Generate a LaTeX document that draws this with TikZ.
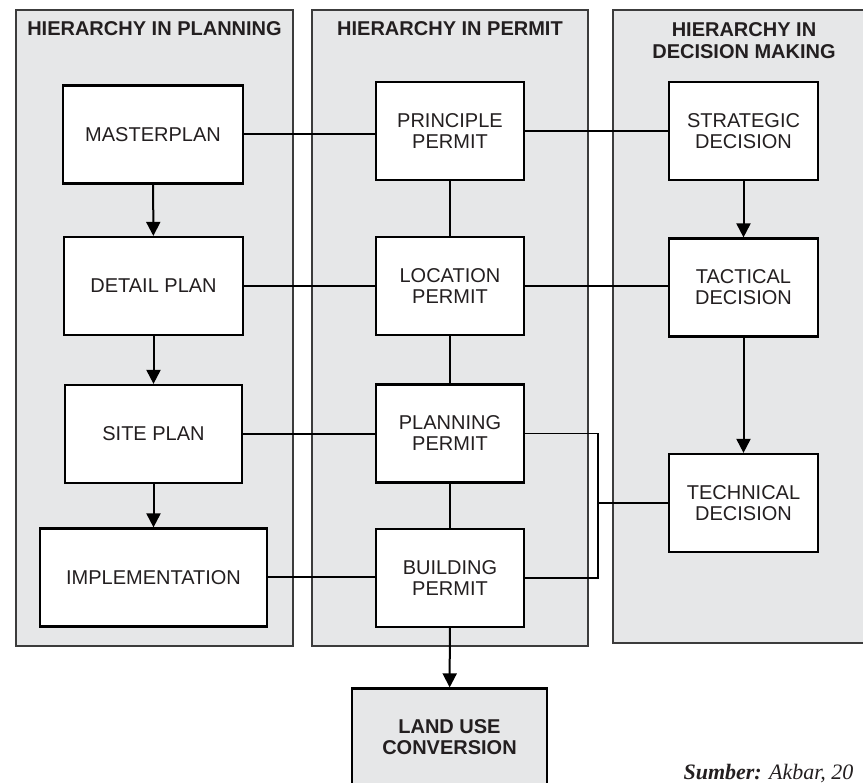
\documentclass[tikz,border=0pt]{standalone}
\usepackage{fontspec}
\setmainfont{Liberation Sans}
\newfontfamily\srcfont{Liberation Serif}
\usetikzlibrary{arrows.meta}
\definecolor{panelgray}{HTML}{E6E7E8}
\definecolor{inkgray}{HTML}{231F20}
\definecolor{framegray}{HTML}{3C3C3C}

\begin{document}
\begin{tikzpicture}[x=1pt,y=-1pt,
  panel/.style={fill=panelgray,draw=framegray,line width=1.5pt},
  blk/.style={draw=black,fill=white,line width=2.2pt,minimum width=#1,minimum height=98pt,
    inner sep=0pt,align=center,font=\fontsize{20}{21}\selectfont,text=inkgray},
  blk/.default=148pt,
  head/.style={font=\fontsize{20}{22}\selectfont\bfseries,text=inkgray,align=center},
  link/.style={line width=2pt},
  flow/.style={line width=2pt,-{Triangle[width=14pt,length=14pt]}}]
\clip (0,0) rectangle (863,783);

% --- Columns ---
\draw[panel] (16,10) rectangle (293,646);
\draw[panel] (312,10) rectangle (588,646);
\draw[panel] (613,10) rectangle (876,643);

\node[head] (hplan) at (154.5,29) {HIERARCHY IN PLANNING};
\node[head] (hpermit) at (450,29) {HIERARCHY IN PERMIT};
\node[head] (hdecide) at (744,41) {HIERARCHY IN\\DECISION MAKING};

% --- Planning ---
\node[blk=180pt] (master) at (153,134.5) {MASTERPLAN};
\node[blk=179pt] (detail) at (153.5,286) {DETAIL PLAN};
\node[blk=177pt] (site) at (153.5,434) {SITE PLAN};
\node[blk=227pt] (impl) at (153.5,577.5) {IMPLEMENTATION};

% --- Permit ---
\node[blk] (principle) at (450,131) {PRINCIPLE\\PERMIT};
\node[blk] (location) at (450,286) {LOCATION\\PERMIT};
\node[blk] (planning) at (450,433.5) {PLANNING\\PERMIT};
\node[blk] (building) at (450,578) {BUILDING\\PERMIT};

% --- Decision making ---
\node[blk=149pt] (strategic) at (743.5,131) {STRATEGIC\\DECISION};
\node[blk=149pt] (tactical) at (743.5,287.5) {TACTICAL\\DECISION};
\node[blk=149pt] (technical) at (743.5,503) {TECHNICAL\\DECISION};

% --- Result ---
\node[blk=195pt,fill=panelgray,font=\fontsize{20}{21}\selectfont\bfseries] (landuse) at (449.5,737.5) {LAND USE\\CONVERSION};

% --- Arrows down ---
\draw[flow] (master) -- (detail);
\draw[flow] (detail) -- (site);
\draw[flow] (site) -- (impl);
\draw[flow] (strategic) -- (tactical);
\draw[flow] (tactical) -- (technical);
\draw[flow] (building) -- (landuse);

% --- Permit chain ---
\draw[link] (principle) -- (location);
\draw[link] (location) -- (planning);
\draw[link] (planning) -- (building);

% --- Cross links ---
\draw[link] (master.east) -- (master.east -| principle.west);
\draw[link] (principle.east) -- (principle.east -| strategic.west);
\draw[link] (detail.east) -- (detail.east -| location.west);
\draw[link] (location.east) -- (location.east -| tactical.west);
\draw[link] (site.east) -- (site.east -| planning.west);
\draw[link] (impl.east) -- (impl.east -| building.west);

\coordinate (bk) at (598,505);
\draw[line width=1.6pt] (planning.east) -- (planning.east -| bk) -- (building.east -| bk) -- (building.east);
\draw[link] (technical.west) -- (technical.west -| bk);

\node[anchor=base west,font=\srcfont\fontsize{22}{24}\selectfont,text=inkgray] (src) at (680,779)
  {\textbf{\textit{Sumber:}} \textit{Akbar, 20}};
\end{tikzpicture}
\end{document}
